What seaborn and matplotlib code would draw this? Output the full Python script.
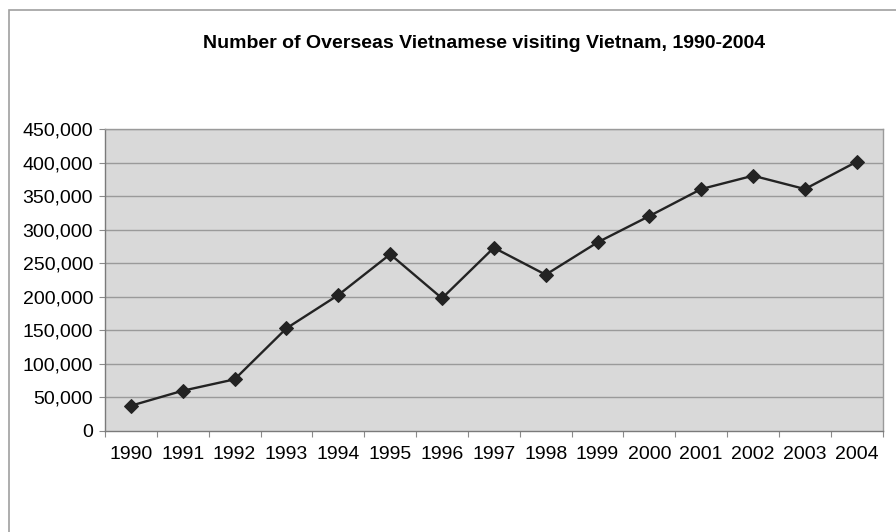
import numpy as np
import pandas as pd
import matplotlib
matplotlib.use("Agg")
import matplotlib.pyplot as plt
import seaborn as sns
from matplotlib.ticker import FuncFormatter, FixedLocator
from matplotlib.patches import Rectangle

years = ["1990", "1991", "1992", "1993", "1994", "1995", "1996", "1997",
         "1998", "1999", "2000", "2001", "2002", "2003", "2004"]
visitors = [37300, 59700, 76700, 152900, 202600, 263400, 197700, 273200,
            232900, 281200, 320500, 360800, 380700, 360800, 401600]
y_ticks = [0, 50000, 100000, 150000, 200000, 250000, 300000, 350000, 400000, 450000]
title = "Number of Overseas Vietnamese visiting Vietnam, 1990-2004"

df = pd.DataFrame({"pos": np.arange(len(years)), "year": years, "visitors": visitors})

sns.set_theme(style="white")
plt.rcParams["font.family"] = ["Liberation Sans", "DejaVu Sans"]

fig = plt.figure(figsize=(8.96, 5.32), dpi=100)
ax = fig.add_axes([105/896, 1 - 430.7/532, (882.7 - 105)/896, (430.7 - 129.3)/532])
ax.set_facecolor("#d9d9d9")

for t in y_ticks[1:]:
    ax.axhline(t, color="#9a9a9a", lw=1.0, zorder=1)

sns.lineplot(data=df, x="pos", y="visitors", ax=ax, color="#232323", lw=1.7,
             marker="D", markersize=7, markeredgecolor="#232323",
             markerfacecolor="#232323", zorder=3)

ax.set_xlim(-0.5, len(years) - 0.5)
ax.set_ylim(0, 450000)
ax.set_xlabel("")
ax.set_ylabel("")

ax.xaxis.set_major_locator(FixedLocator(df["pos"].tolist()))
ax.set_xticklabels(years)
ax.xaxis.set_minor_locator(FixedLocator(list(np.arange(-0.5, len(years), 1.0))))
ax.set_yticks(y_ticks)
ax.yaxis.set_major_formatter(FuncFormatter(lambda v, p: f"{int(v):,}"))

ax.tick_params(axis="x", which="major", length=0, pad=11, labelsize=14, colors="black")
ax.tick_params(axis="x", which="minor", length=4, width=0.8, color="#8a8a8a", direction="out", bottom=True)
ax.tick_params(axis="y", which="major", length=4, width=0.8, color="#8a8a8a", direction="out",
               pad=4.5, labelsize=14, left=True, labelcolor="black")

for side, sp in ax.spines.items():
    sp.set_visible(True)
    sp.set_color("#9a9a9a")
    sp.set_linewidth(1.0)
ax.spines["left"].set_color("#7a7a7a")
ax.spines["bottom"].set_color("#7a7a7a")

fig.text(484/896, 1 - 43.5/532, title, ha="center", va="center",
         fontsize=14, fontweight="bold", color="black")

fig.patches.append(Rectangle((8.5/896, -0.05), 1.2, 1 - 9.5/532 + 0.05,
                             transform=fig.transFigure, fill=False,
                             edgecolor="#a0a0a0", lw=1.2))

fig.savefig("out.png", dpi=100)
